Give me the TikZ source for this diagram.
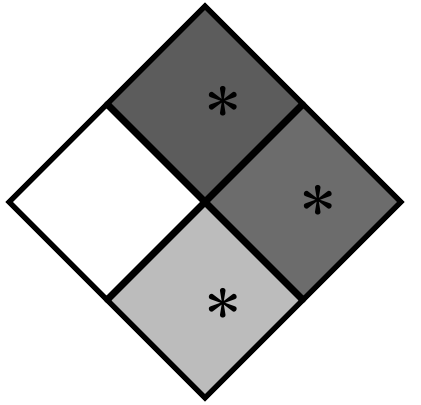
\documentclass[tikz,border=0pt]{standalone}
\usepackage{tikz}
\usetikzlibrary{positioning,shapes.geometric}
\definecolor{hzDark}{RGB}{92,92,92}
\definecolor{hzMid}{RGB}{108,108,108}
\definecolor{hzLight}{RGB}{188,188,188}
\newcommand{\hzmark}{\fontsize{19}{19}\selectfont\bfseries *}

\begin{document}
\begin{tikzpicture}
\tikzstyle{cellbox}=[draw=black, line width=1.5pt, diamond, aspect=1, inner sep=0pt, minimum width=1.97cm, minimum height=1.97cm]
\tikzstyle{star}=[inner sep=0pt]
\useasboundingbox (0,0) rectangle (4.21,4.05);

\node[cellbox, fill=white] (west) at (1.065,2.03) {};
\node[cellbox, fill=hzDark] (north) at (2.05,3.015) {};
\node[cellbox, fill=hzMid] (east) at (3.035,2.03) {};
\node[cellbox, fill=hzLight] (south) at (2.05,1.045) {};

\node[star] (northmark) at ([xshift=0.18cm,yshift=-0.08cm]north.center) {\hzmark};
\node[star] (eastmark) at ([xshift=0.15cm,yshift=-0.08cm]east.center) {\hzmark};
\node[star] (southmark) at ([xshift=0.18cm,yshift=-0.13cm]south.center) {\hzmark};
\end{tikzpicture}
\end{document}
